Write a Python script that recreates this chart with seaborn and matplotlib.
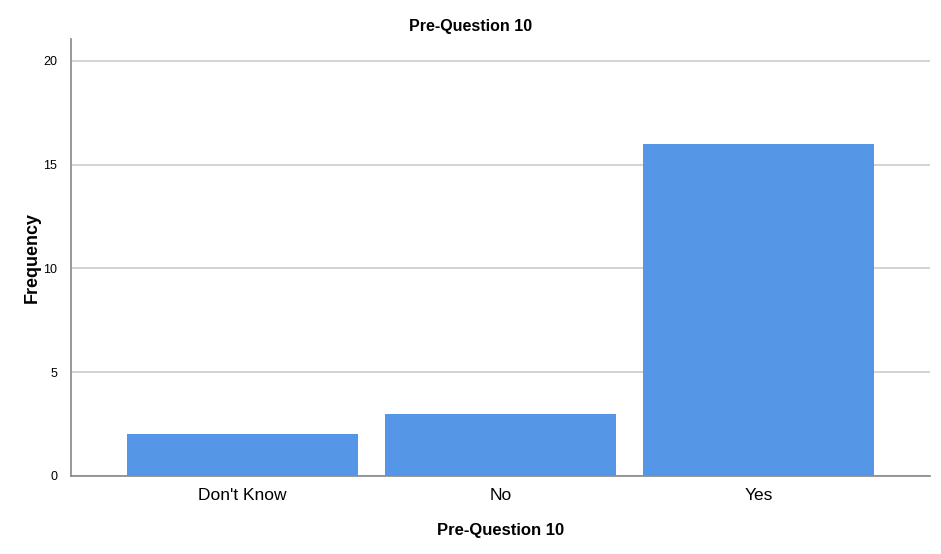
import numpy as np
import pandas as pd
import matplotlib
matplotlib.use("Agg")
import matplotlib.pyplot as plt
import seaborn as sns

# data
categories = ["Don't Know", "No", "Yes"]
frequencies = [2, 3, 16]
y_ticks = [0, 5, 10, 15, 20]

df = pd.DataFrame({"Answer": categories, "Frequency": frequencies})

sns.set_style("white")
plt.rcParams['font.family'] = ['Liberation Sans', 'DejaVu Sans']

fig = plt.figure(figsize=(9.41, 5.54), dpi=100)
ax = fig.add_axes([71 / 941, 1 - 476 / 554, (930 - 71) / 941, (476 - 39) / 554])

sns.barplot(data=df, x="Answer", y="Frequency", color="#5596E6", saturation=1,
            width=0.895, linewidth=0, ax=ax, zorder=3)

ax.set_xlim(-0.665, 2.665)
ax.set_ylim(0, 21.05)
ax.set_yticks(y_ticks)
ax.yaxis.grid(True, color="#cccccc", linewidth=1.2, zorder=0)
ax.set_axisbelow(True)

for s in ["top", "right"]:
    ax.spines[s].set_visible(False)
for s in ["left", "bottom"]:
    ax.spines[s].set_color("#888888")
    ax.spines[s].set_linewidth(1.2)

ax.tick_params(axis="y", labelsize=9, length=0, pad=10, colors="black")
ax.tick_params(axis="x", labelsize=12.5, length=0, pad=9, colors="black")

# title is centred on the whole figure, not on the axes
fig.suptitle("Pre-Question 10", x=0.5, y=1 - 26 / 554, va="center",
             fontsize=11.5, fontweight="bold", color="black")
ax.set_xlabel("Pre-Question 10", fontsize=12, fontweight="bold", labelpad=14, color="black")
ax.set_ylabel("Frequency", fontsize=13, fontweight="bold", labelpad=2, color="black")

fig.savefig("out.png", dpi=100)
